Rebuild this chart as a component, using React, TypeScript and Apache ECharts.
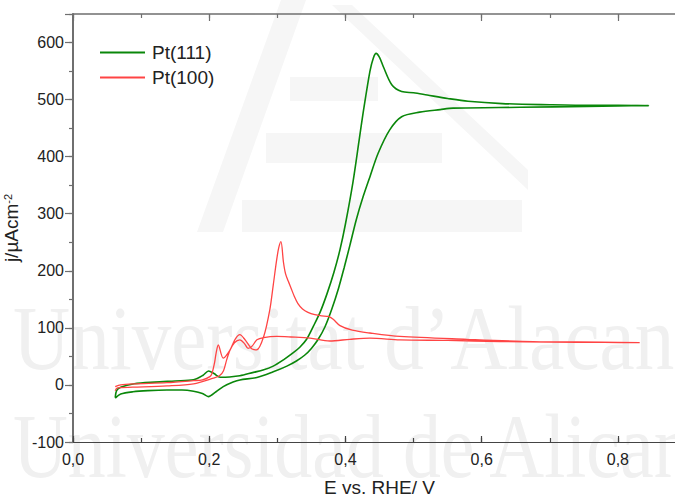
import React, { useEffect, useRef } from "react";
import * as echarts from "echarts";

// Pt(111): positive sweep (with peak) then negative sweep
const E111_pos = [0.062, 0.064, 0.07, 0.09, 0.12, 0.15, 0.177, 0.191, 0.199, 0.207, 0.216, 0.23, 0.245, 0.265, 0.279, 0.294, 0.309, 0.323, 0.333, 0.343, 0.353, 0.363, 0.373, 0.383, 0.392, 0.4, 0.411, 0.42, 0.426, 0.436, 0.441, 0.445, 0.45, 0.4555, 0.468, 0.4825, 0.5, 0.52, 0.55, 0.58, 0.63, 0.7, 0.76, 0.8, 0.845];
const J111_pos = [-22, -10, -4, 2, 5, 7, 9, 17, 24.5, 20, 13.5, 14, 16, 22, 26, 33, 44, 56, 66, 80, 103, 128, 160, 197, 237, 282, 355, 428, 477, 550, 573, 581, 574, 558, 526, 514, 512, 508, 502, 497, 493, 491, 490, 490, 489.5];
const E111_neg = [0.8, 0.754, 0.656, 0.558, 0.539, 0.509, 0.4825, 0.465, 0.448, 0.436, 0.426, 0.416, 0.4066, 0.398, 0.39, 0.38, 0.37, 0.36, 0.35, 0.34, 0.328, 0.314, 0.294, 0.27, 0.245, 0.235, 0.2206, 0.21, 0.1987, 0.19, 0.177, 0.16, 0.138, 0.11, 0.088, 0.07, 0.062];
const J111_neg = [489, 488, 486.5, 485, 482.5, 478, 470, 447, 406, 365, 330, 290, 245, 205, 170, 133, 102, 80, 64, 52, 42, 33, 23, 13, 8.8, 5, -3, -12, -20.5, -15, -11, -9, -9, -10, -12, -16, -23];

// Pt(100): sweep B (flat branch) then sweep A (sharp peaks)
const E100_b = [0.062, 0.065, 0.088, 0.138, 0.177, 0.206, 0.215, 0.221, 0.2256, 0.2305, 0.237, 0.245, 0.252, 0.257, 0.263, 0.27, 0.28, 0.299, 0.32, 0.348, 0.377, 0.4066, 0.436, 0.48, 0.55, 0.627, 0.7, 0.78, 0.832];
const J100_b = [-10, -5, -4, -1.8, 1.75, 11.8, 16, 25, 44, 61, 74, 79, 72, 64, 68, 79, 83, 85, 84, 82, 77, 80, 82, 79, 78, 76, 75, 74.5, 74];
const E100_a = [0.832, 0.7757, 0.6757, 0.578, 0.48, 0.436, 0.41, 0.392, 0.382, 0.375, 0.365, 0.355, 0.345, 0.337, 0.33, 0.325, 0.32, 0.316, 0.312, 0.309, 0.3053, 0.302, 0.299, 0.294, 0.289, 0.28, 0.2696, 0.263, 0.2598, 0.252, 0.245, 0.238, 0.23, 0.2206, 0.2133, 0.21, 0.208, 0.204, 0.201, 0.19, 0.177, 0.138, 0.088, 0.07, 0.062];
const J100_a = [74, 75, 76, 80, 85, 91, 96, 104, 115, 120, 121, 123, 127, 133, 143, 155, 170, 182, 195, 215, 251, 240, 219, 175, 132, 85, 61.4, 63, 67, 80, 88, 80, 60, 47, 70, 55, 40, 20, 14.6, 9, 7.5, 4, 1.75, 0, -3];

const xTicks = { min: 0, max: 0.9, major: 0.2, minor: 0.1 };
const yTicks = { min: -100, max: 650, major: 100, minor: 50 };

const zip = (xs: number[], ys: number[]) => xs.map((x, i) => [x, ys[i]]);

const GREEN = "#0a870a";
const RED = "#ff4444";
const AX = "#6f6f6f";
const TXT = "#222";
const FONT = "'Liberation Sans', Arial, sans-serif";
const WM = "#f0f0f0";

export default function App() {
  const ref = useRef<HTMLDivElement>(null);
  useEffect(() => {
    const chart = echarts.init(ref.current!, null, { renderer: "svg" });
    const green = [...zip(E111_pos, J111_pos), ...zip(E111_neg, J111_neg)];
    const red = [...zip(E100_b, J100_b), ...zip(E100_a, J100_a)];
    const xCommon = (pos: string, interval: number, tickLen: number, showLine: boolean, showLabel: boolean, lineColor: string, lineW: number) => ({
      type: "value",
      position: pos,
      min: xTicks.min,
      max: xTicks.max,
      interval,
      axisLine: { show: showLine, onZero: false, lineStyle: { color: lineColor, width: lineW } },
      axisTick: { show: true, inside: true, length: tickLen, lineStyle: { color: lineColor, width: 1.2 } },
      axisLabel: {
        show: showLabel,
        margin: 9,
        color: TXT,
        fontSize: 16,
        fontFamily: FONT,
        formatter: (v: number) => (Math.abs(v - 0.9) < 1e-6 ? "" : v.toFixed(1).replace(".", ",")),
      },
      splitLine: { show: false },
    });
    chart.setOption({
      animation: false,
      backgroundColor: "#fff",
      grid: { left: 73, top: 14, bottom: 53, right: -11, containLabel: false, outerBoundsMode: "none" },
      graphic: {
        elements: [
          { type: "polygon", z: -10, shape: { points: [[281, 0], [306, 0], [223, 232], [197, 232]] }, style: { fill: "#f6f6f6" } },
          { type: "polygon", z: -10, shape: { points: [[332, 5], [352, 5], [528, 170], [528, 190]] }, style: { fill: "#f6f6f6" } },
          { type: "rect", z: -10, shape: { x: 290, y: 77, width: 88, height: 24 }, style: { fill: "#f6f6f6" } },
          { type: "rect", z: -10, shape: { x: 266, y: 133, width: 176, height: 30 }, style: { fill: "#f6f6f6" } },
          { type: "rect", z: -10, shape: { x: 242, y: 200, width: 280, height: 32 }, style: { fill: "#f6f6f6" } },
          { type: "text", z: -10, x: 13, y: 338, scaleX: 0.86, style: { text: "Universitat d\u2019Alacant", font: "92px 'Liberation Serif', 'DejaVu Serif', serif", fill: WM, textAlign: "left", textVerticalAlign: "middle" } },
          { type: "text", z: -10, x: 13, y: 446, scaleX: 0.825, style: { text: "Universidad de Alicante", font: "92px 'Liberation Serif', 'DejaVu Serif', serif", fill: WM, textAlign: "left", textVerticalAlign: "middle" } },
        ],
      },
      legend: {
        data: ["Pt(111)", "Pt(100)"],
        orient: "vertical",
        left: 100,
        top: 43,
        padding: 0,
        itemWidth: 45,
        itemHeight: 2,
        itemGap: 6,
        icon: "rect",
        textStyle: { fontSize: 19, color: TXT, fontFamily: FONT, padding: [0, 0, 0, 2] },
      },
      xAxis: [
        {
          ...xCommon("bottom", xTicks.major, 6, true, true, "#444", 1.2),
          name: "E vs. RHE/ V",
          nameLocation: "middle",
          nameGap: 36,
          nameTextStyle: { fontSize: 19, color: TXT, fontFamily: FONT },
        },
        xCommon("bottom", xTicks.minor, 4, false, false, "#444", 1.2),
        xCommon("top", xTicks.major, 7, true, false, AX, 1.5),
        xCommon("top", xTicks.minor, 4, false, false, AX, 1.5),
      ],
      yAxis: [
        {
          type: "value",
          position: "left",
          min: yTicks.min,
          max: yTicks.max,
          interval: yTicks.major,
          axisLine: { show: true, onZero: false, lineStyle: { color: AX, width: 2 } },
          axisTick: { show: true, inside: false, length: 8, lineStyle: { color: AX, width: 1.2 } },
          axisLabel: {
            margin: 9,
            color: TXT,
            fontSize: 16,
            fontFamily: FONT,
            formatter: (v: number) => (v === 650 ? "" : String(v)),
          },
          splitLine: { show: false },
          name: "j/\u00b5Acm{sup|-2}",
          nameLocation: "middle",
          nameGap: 46,
          nameTextStyle: {
            fontSize: 19,
            color: TXT,
            fontFamily: FONT,
            rich: { sup: { fontSize: 11, color: TXT, fontFamily: FONT, verticalAlign: "top", padding: [0, 0, 8, 0] } },
          },
        },
        {
          type: "value",
          position: "left",
          min: yTicks.min,
          max: yTicks.max,
          interval: yTicks.minor,
          axisLine: { show: false, onZero: false },
          axisTick: { show: true, inside: false, length: 4, lineStyle: { color: AX, width: 1.2 } },
          axisLabel: { show: false },
          splitLine: { show: false },
        },
      ],
      series: [
        {
          name: "Pt(111)",
          type: "line",
          data: green,
          xAxisIndex: 0,
          yAxisIndex: 0,
          symbol: "none",
          showSymbol: false,
          smooth: 0.3,
          lineStyle: { color: GREEN, width: 1.6 },
          itemStyle: { color: GREEN },
          z: 3,
        },
        {
          name: "Pt(100)",
          type: "line",
          data: red,
          xAxisIndex: 0,
          yAxisIndex: 0,
          symbol: "none",
          showSymbol: false,
          smooth: 0.3,
          lineStyle: { color: RED, width: 1.3 },
          itemStyle: { color: RED },
          z: 4,
        },
      ],
    });
    return () => chart.dispose();
  }, []);
  return <div ref={ref} style={{ position: "fixed", left: 0, top: 0, width: 675, height: 495 }} />;
}
